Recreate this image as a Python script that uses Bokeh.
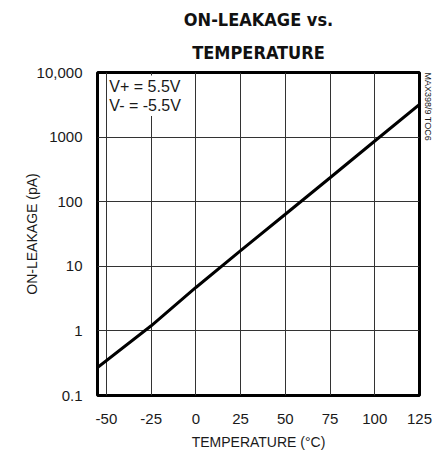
from bokeh.plotting import figure
from bokeh.models import FixedTicker, CustomJSTickFormatter, Label, Title
from bokeh.embed import file_html
from bokeh.resources import INLINE

# Data
temps_c = [-55, -25, 0, 25, 50, 75, 100, 125]
on_leakage_pa = [0.27, 1.2, 4.7, 17.5, 64, 235, 870, 3200]

x_limits = (-55, 125)
y_limits = (0.1, 10000)
x_ticks = [-50, -25, 0, 25, 50, 75, 100, 125]
x_tick_labels = ["-50", "-25", "0", "25", "50", "75", "100", "125"]
y_ticks = [0.1, 1, 10, 100, 1000, 10000]
y_tick_labels = ["0.1", "1", "10", "100", "1000", "10,000"]

title_lines = ["ON-LEAKAGE vs.", "TEMPERATURE"]

TXT = "#1a1a1a"
FONT = "Liberation Sans"
NARROW = "DejaVu Sans Condensed"

p = figure(width=441, height=453, x_range=x_limits, y_range=y_limits,
           y_axis_type="log", output_backend="svg", toolbar_location=None,
           min_border_left=97, min_border_right=22, min_border_top=72,
           min_border_bottom=58, background_fill_color="white",
           border_fill_color="white")

# two-line title (outer line is p.title, inner line added next to the frame)
p.title = Title(text=title_lines[0], align="center", text_font=NARROW,
                text_font_size="18px", text_font_style="bold",
                text_color="#111111", standoff=0)
p.add_layout(Title(text=title_lines[1], align="center", text_font=NARROW,
                   text_font_size="18px", text_font_style="bold",
                   text_color="#111111", standoff=20), "above")

# small vertical figure tag on the right
p.add_layout(Title(text="MAX398/9 TOC6", align="left", text_font=FONT,
                   text_font_size="9px", text_font_style="normal",
                   text_color=TXT, standoff=7), "right")

p.outline_line_color = "black"
p.outline_line_width = 3

p.line(temps_c, on_leakage_pa, line_color="black", line_width=3)

# axes
p.xaxis.ticker = FixedTicker(ticks=x_ticks)
p.xaxis.formatter = CustomJSTickFormatter(
    args=dict(tvals=x_ticks, tlabels=x_tick_labels),
    code="""
const i = tvals.findIndex(t => Math.abs(t - tick) < 1e-9 * Math.max(1, Math.abs(t)));
return i >= 0 ? tlabels[i] : '';
""")
p.yaxis.ticker = FixedTicker(ticks=y_ticks)
p.yaxis.formatter = CustomJSTickFormatter(
    args=dict(tvals=y_ticks, tlabels=y_tick_labels),
    code="""
const i = tvals.findIndex(t => Math.abs(Math.log10(t) - Math.log10(tick)) < 1e-6);
return i >= 0 ? tlabels[i] : '';
""")
for ax in (p.xaxis, p.yaxis):
    ax.axis_line_color = None
    ax.major_tick_line_color = None
    ax.minor_tick_line_color = None
    ax.major_label_text_font = FONT
    ax.major_label_text_font_size = "15px"
    ax.major_label_text_color = TXT
    ax.axis_label_text_font = FONT
    ax.axis_label_text_font_size = "14px"
    ax.axis_label_text_font_style = "normal"
    ax.axis_label_text_color = TXT

p.xaxis.axis_label = "TEMPERATURE (°C)"
p.yaxis.axis_label = "ON-LEAKAGE (pA)"
p.xaxis.major_label_standoff = 12
p.xaxis.axis_label_standoff = 7
p.yaxis.major_label_standoff = 9
p.yaxis.axis_label_standoff = -6

for g in (p.xgrid, p.ygrid):
    g.grid_line_color = "#333333"
    g.grid_line_width = 1

# condition labels
cond = Label(x=-49.5, y=10000, x_units="data", y_units="data",
             text="V+ = 5.5V\nV- = -5.5V", text_font=FONT, text_font_size="16px",
             text_color=TXT, text_baseline="top", text_align="left",
             y_offset=-3, background_fill_color="white", padding=2,
             text_line_height=1.15)
p.add_layout(cond)

open("out.html", "w").write(file_html(p, INLINE))
